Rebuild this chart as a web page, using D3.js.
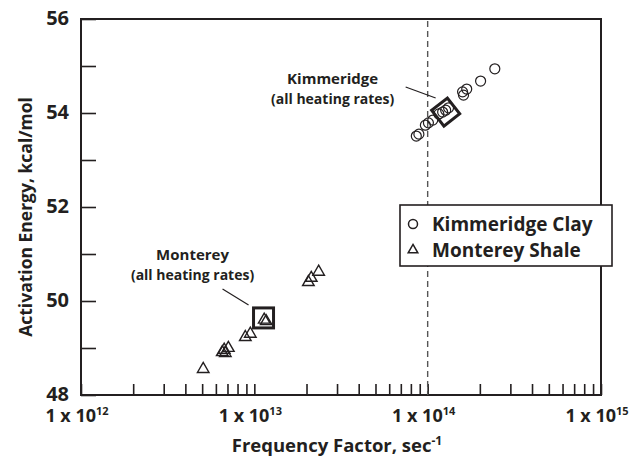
<!DOCTYPE html>
<html>
<head>
<meta charset="utf-8">
<script src="https://cdn.jsdelivr.net/npm/d3@7"></script>
<style>
  body { margin: 0; background: #fff; }
  text { font-family: "Open Sans", Lato, sans-serif; font-weight: 700; fill: #231f20; }
</style>
</head>
<body>
<div id="chart"></div>
<script>
'use strict';

// Kimmeridge Clay: frequency factor (1/s), activation energy (kcal/mol)
const kimFreq = [2.44e14, 2.02e14, 1.68e14, 1.59e14, 1.61e14, 1.32e14, 1.27e14, 1.22e14,
                 1.16e14, 1.07e14, 1.01e14, 9.7e13, 8.9e13, 8.6e13];
const kimEa   = [54.94, 54.68, 54.51, 54.45, 54.38, 54.11, 54.06, 54.02,
                 53.98, 53.85, 53.79, 53.74, 53.55, 53.51];

// Monterey Shale
const monFreq = [5.07e12, 6.53e12, 6.8e12, 6.7e12, 7.08e12, 8.87e12, 9.48e12,
                 1.14e13, 1.17e13, 2.05e13, 2.13e13, 2.35e13];
const monEa   = [48.55, 48.91, 48.89, 48.96, 49.0, 49.23, 49.30,
                 49.6, 49.57, 50.40, 50.49, 50.62];

// "all heating rates" summary points
const summaryNames = ['Kimmeridge', 'Monterey'];
const summaryFreq = [1.27e14, 1.13e13];
const summaryEa = [54.02, 49.64];

const yTicks = [48, 49, 50, 51, 52, 53, 54, 55, 56];
const yLabels = [48, 50, 52, 54, 56];
const decades = [12, 13, 14, 15];
const refLine = 1e14;
const legendNames = ['Kimmeridge Clay', 'Monterey Shale'];

// Config
const w = 634, h = 457;
const m = {top: 19, right: 33, bottom: 62, left: 81};
const ink = '#231f20';

const svg = d3.select('#chart').append('svg')
    .attr('width', w)
    .attr('height', h);

const x = d3.scaleLog()
    .domain([1e12, 1e15])
    .range([m.left, w - m.right]);

const y = d3.scaleLinear()
    .domain([48, 56])
    .range([h - m.bottom, m.top]);

// x ticks: 1..9 in each decade
const xTicks = [];
decades.slice(0, -1).forEach(d => {
    for (let k = 1; k < 10; k++) xTicks.push(k * Math.pow(10, d));
});
xTicks.push(1e15);

// Axes
const xAxis = svg.append('g')
    .attr('transform', `translate(0,${h - m.bottom})`)
    .call(d3.axisBottom(x).tickValues(xTicks).tickSizeInner(-11).tickSizeOuter(0).tickFormat(''));
xAxis.select('.domain').remove();
xAxis.selectAll('line').attr('stroke', ink).attr('stroke-width', 1.6);

const yAxis = svg.append('g')
    .attr('transform', `translate(${m.left},0)`)
    .call(d3.axisLeft(y).tickValues(yTicks).tickSizeInner(-15).tickSizeOuter(0).tickFormat(''));
yAxis.select('.domain').remove();
yAxis.selectAll('line').attr('stroke', ink).attr('stroke-width', 1.6);

// y labels
svg.append('g').selectAll('text')
    .data(yLabels)
    .join('text')
    .attr('x', m.left - 12)
    .attr('y', d => y(d) + 6)
    .attr('text-anchor', 'end')
    .style('font-size', '20px')
    .text(d => d);

// x labels
const xl = svg.append('g').selectAll('text')
    .data(decades)
    .join('text')
    .attr('x', d => x(Math.pow(10, d)) - 4)
    .attr('y', h - m.bottom + 27)
    .attr('text-anchor', 'middle')
    .style('font-size', '18px');
xl.append('tspan').text('1 x 10');
xl.append('tspan').attr('dy', -7).style('font-size', '11px').text(d => d);

// frame
svg.append('rect')
    .attr('x', m.left)
    .attr('y', m.top)
    .attr('width', w - m.left - m.right)
    .attr('height', h - m.top - m.bottom)
    .attr('fill', 'none')
    .attr('stroke', ink)
    .attr('stroke-width', 2);

// reference dashed line
svg.append('line')
    .attr('x1', x(refLine)).attr('x2', x(refLine))
    .attr('y1', m.top + 2).attr('y2', h - m.bottom)
    .attr('stroke', '#555')
    .attr('stroke-width', 1.4)
    .attr('stroke-dasharray', '6,4');

// axis titles
svg.append('text')
    .attr('transform', `translate(32,${(m.top + h - m.bottom) / 2 + 10}) rotate(-90)`)
    .attr('text-anchor', 'middle')
    .style('font-size', '17.5px')
    .text('Activation Energy, kcal/mol');

const xt = svg.append('text')
    .attr('x', 337)
    .attr('y', 452)
    .attr('text-anchor', 'middle')
    .style('font-size', '18.5px');
xt.append('tspan').text('Frequency Factor, sec');
xt.append('tspan').attr('dy', -7).style('font-size', '12px').text('-1');

// data
const tri = d3.symbol(d3.symbolTriangle, 58);

svg.append('g').selectAll('circle')
    .data(kimFreq.map((f, i) => ({f, e: kimEa[i]})))
    .join('circle')
    .attr('cx', d => x(d.f))
    .attr('cy', d => y(d.e))
    .attr('r', 5)
    .attr('fill', 'none')
    .attr('stroke', ink)
    .attr('stroke-width', 1.2);

svg.append('g').selectAll('path')
    .data(monFreq.map((f, i) => ({f, e: monEa[i]})))
    .join('path')
    .attr('d', tri)
    .attr('transform', d => `translate(${x(d.f)},${y(d.e)})`)
    .attr('fill', 'none')
    .attr('stroke', ink)
    .attr('stroke-width', 1.4);

// summary boxes
const rot = [-38, 0];
svg.append('g').selectAll('rect')
    .data(summaryNames.map((n, i) => ({n, f: summaryFreq[i], e: summaryEa[i], r: rot[i]})))
    .join('rect')
    .attr('x', -10).attr('y', -10)
    .attr('width', 20).attr('height', 20)
    .attr('transform', d => `translate(${x(d.f)},${y(d.e)}) rotate(${d.r})`)
    .attr('fill', 'none')
    .attr('stroke', ink)
    .attr('stroke-width', 3);

// annotations
const notes = [
    {i: 0, tx: -113, ty: -28, l: [-40, -25, -10, -14]},
    {i: 1, tx: -71, ty: -58, l: [-41, -29, -15, -13]}
];
notes.forEach(nt => {
    const cx = x(summaryFreq[nt.i]), cy = y(summaryEa[nt.i]);
    const t = svg.append('text')
        .attr('text-anchor', 'middle');
    t.append('tspan').attr('x', cx + nt.tx).attr('y', cy + nt.ty)
        .style('font-size', '15px').text(summaryNames[nt.i]);
    t.append('tspan').attr('x', cx + nt.tx).attr('dy', 20)
        .style('font-size', '14px').text('(all heating rates)');
    svg.append('line')
        .attr('x1', cx + nt.l[0]).attr('y1', cy + nt.l[1])
        .attr('x2', cx + nt.l[2]).attr('y2', cy + nt.l[3])
        .attr('stroke', ink)
        .attr('stroke-width', 1.2);
});

// legend
const lg = svg.append('g').attr('transform', 'translate(400,205)');
lg.append('rect')
    .attr('width', 212).attr('height', 61)
    .attr('fill', '#fff')
    .attr('stroke', ink)
    .attr('stroke-width', 1.6);
lg.append('circle')
    .attr('cx', 13).attr('cy', 19).attr('r', 4.5)
    .attr('fill', 'none').attr('stroke', ink).attr('stroke-width', 1.5);
lg.append('path')
    .attr('d', d3.symbol(d3.symbolTriangle, 40))
    .attr('transform', 'translate(13,45)')
    .attr('fill', 'none').attr('stroke', ink).attr('stroke-width', 1.5);
lg.selectAll('text.lt')
    .data(legendNames)
    .join('text')
    .attr('class', 'lt')
    .attr('x', 32)
    .attr('y', (d, i) => 26 + i * 26)
    .style('font-size', '19px')
    .text(d => d);
</script>
</body>
</html>
